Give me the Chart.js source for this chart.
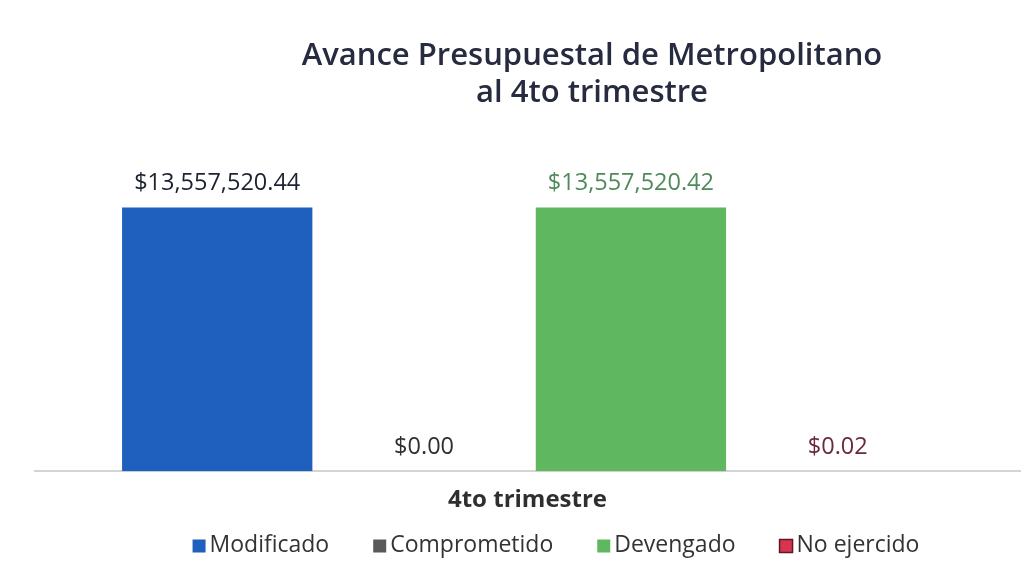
<!DOCTYPE html>
<html>
<head>
<meta charset="utf-8">
<script src="https://cdn.jsdelivr.net/npm/chart.js@4"></script>
<style>
  html, body { margin: 0; padding: 0; background: #fff; }
  #wrap { width: 1036px; height: 569px; position: relative; }
</style>
</head>
<body>
<div id="wrap"><canvas id="chart"></canvas></div>
<script>
// --- datos ---
const categories = ["4to trimestre"];
const titleLines = ["Avance Presupuestal de Metropolitano", "al 4to trimestre"];
const seriesNames = ["Modificado", "Comprometido", "Devengado", "No ejercido"];
const seriesValues = [13557520.44, 0.00, 13557520.42, 0.02];
const seriesColors = ["#1f5fbd", "#595959", "#5fb85f", "#d8344f"];
const labelColors = ["#1e2130", "#2f2f2f", "#4f8a5c", "#6a2a3c"];

const FONT = "'Open Sans'";
const fmt = v => "$" + v.toLocaleString("en-US", { minimumFractionDigits: 2, maximumFractionDigits: 2 });

// etiquetas de valor encima de cada barra
const valueLabels = {
    id: "valueLabels",
    afterDatasetsDraw(chart) {
        const ctx = chart.ctx;
        ctx.save();
        ctx.font = "23.5px " + FONT;
        ctx.textAlign = "center";
        ctx.textBaseline = "middle";
        chart.data.datasets.forEach((ds, i) => {
            const bar = chart.getDatasetMeta(i).data[0];
            ctx.fillStyle = labelColors[i];
            ctx.fillText(fmt(ds.data[0]), bar.x, bar.y - 24);
        });
        ctx.restore();
    }
};

// titulo y leyenda (un poco corridos a la derecha como en el original)
const titleAndLegend = {
    id: "titleAndLegend",
    afterDraw(chart) {
        const ctx = chart.ctx;
        ctx.save();
        ctx.fillStyle = "#262b40";
        ctx.font = "600 31px " + FONT;
        ctx.textAlign = "center";
        ctx.textBaseline = "middle";
        titleLines.forEach((t, i) => ctx.fillText(t, 592, 56 + i * 37));

        // leyenda
        ctx.font = "23px " + FONT;
        ctx.textAlign = "left";
        const box = 13, gapText = 4, gapItem = 44;
        const widths = seriesNames.map(n => box + gapText + ctx.measureText(n).width);
        const total = widths.reduce((a, b) => a + b, 0) + gapItem * (seriesNames.length - 1);
        let x = 556 - total / 2;
        const y = 545;
        seriesNames.forEach((n, i) => {
            ctx.fillStyle = seriesColors[i];
            ctx.fillRect(x, y - box / 2 + 1, box, box);
            if (i === 3) {
                ctx.strokeStyle = "#5a1a2a";
                ctx.lineWidth = 1.5;
                ctx.strokeRect(x, y - box / 2 + 1, box, box);
            }
            ctx.fillStyle = "#333";
            ctx.fillText(n, x + box + gapText, y);
            x += widths[i] + gapItem;
        });
        ctx.restore();
    }
};

const ctx = document.getElementById("chart").getContext("2d");
new Chart(ctx, {
    type: "bar",
    data: {
        labels: categories,
        datasets: seriesNames.map((name, i) => ({
            label: name,
            data: [seriesValues[i]],
            backgroundColor: seriesColors[i],
            borderWidth: 0
        }))
    },
    options: {
        responsive: true,
        maintainAspectRatio: false,
        animation: false,
        layout: { padding: { left: 35, right: 16, top: 160, bottom: 47 } },
        categoryPercentage: 0.84,
        barPercentage: 0.92,
        plugins: {
            title: { display: false },
            legend: { display: false },
            tooltip: { enabled: false }
        },
        scales: {
            x: {
                grid: { display: false },
                border: { color: "#d4d4d4", width: 2 },
                ticks: { color: "#2f2f2f", font: { family: FONT, size: 24, weight: "bold" }, padding: 7 }
            },
            y: {
                display: false,
                min: 0,
                max: 16000000
            }
        }
    },
    plugins: [valueLabels, titleAndLegend]
});
</script>
</body>
</html>
